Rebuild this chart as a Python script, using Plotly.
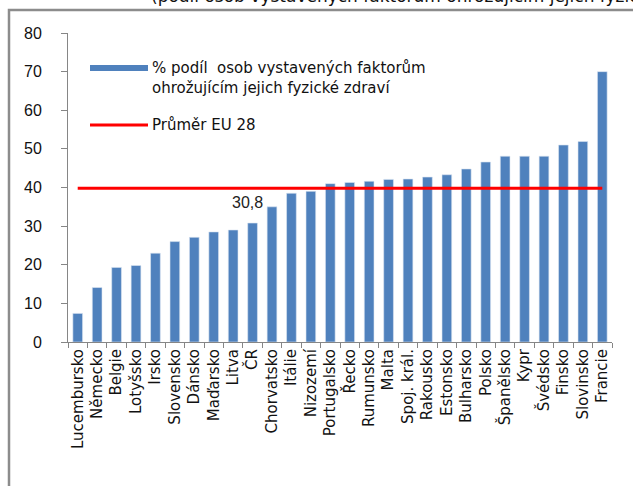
import plotly.graph_objects as go

# ── data ─────────────────────────────────────────────────────────
countries = [
    "Lucembursko", "Německo", "Belgie", "Lotyšsko", "Irsko", "Slovensko",
    "Dánsko", "Maďarsko", "Litva", "ČR", "Chorvatsko", "Itálie", "Nizozemí",
    "Portugalsko", "Řecko", "Rumunsko", "Malta", "Spoj. král.", "Rakousko",
    "Estonsko", "Bulharsko", "Polsko", "Španělsko", "Kypr", "Švédsko",
    "Finsko", "Slovinsko", "Francie",
]
share = [
    7.4, 14.1, 19.3, 19.8, 23.0, 26.0, 27.1, 28.5, 29.0, 30.8, 35.0, 38.5,
    39.0, 41.0, 41.3, 41.6, 42.1, 42.2, 42.7, 43.3, 44.8, 46.6, 48.1, 48.1,
    48.1, 51.0, 51.9, 70.0,
]
eu_avg = 39.8
series_name = "% podíl  osob vystavených faktorům<br>ohrožujícím jejich fyzické zdraví"
avg_name = "Průměr EU 28"
cz_label = "30,8"
title_text = "(podíl osob vystavených faktorům ohrožujícím jejich fyzické zdraví v %)"

ARIAL = "Liberation Sans, Arial, sans-serif"
WIDE = "DejaVu Sans, Verdana, sans-serif"
BLUE, RED, GREY = "#4F81BD", "#FF0000", "#868686"

fig = go.Figure()
fig.add_trace(go.Bar(
    x=countries, y=share, name=series_name, showlegend=False,
    marker=dict(color=BLUE, line=dict(color="#DCE6F2", width=0.6)),
))
fig.add_trace(go.Scatter(
    x=countries, y=[eu_avg] * len(countries), name=avg_name, showlegend=False,
    mode="lines", line=dict(color=RED, width=3),
))

# ── layout ───────────────────────────────────────────────────────
L, R, T, B = 68, 21, 33, 144
W, H = 633, 486
pw, ph = W - L - R, H - T - B

def px(x):  # pixel -> paper x
    return (x - L) / pw

def py(y):  # pixel -> paper y
    return 1 - (y - T) / ph

fig.update_layout(
    width=W, height=H,
    margin=dict(l=L, r=R, t=T, b=B),
    plot_bgcolor="white", paper_bgcolor="white",
    font=dict(family=ARIAL, size=16, color="#111111"),
    bargap=0.5,
    xaxis=dict(
        tickangle=-90, tickfont=dict(family=WIDE, size=15), showgrid=False,
        showline=True, linecolor=GREY, linewidth=1, automargin=False,
        ticks="outside", tickson="boundaries", ticklen=5, tickcolor=GREY,
    ),
    yaxis=dict(
        range=[0, 80], dtick=10, tickfont=dict(size=16), showgrid=False,
        showline=True, linecolor=GREY, linewidth=1, automargin=False,
        ticks="outside", ticklen=6, tickcolor=GREY,
        ticklabelstandoff=16, zeroline=False,
    ),
)

# legend drawn by hand so the keys are as wide as in the original
fig.add_shape(type="line", xref="paper", yref="paper",
              x0=px(90), x1=px(148), y0=py(68), y1=py(68),
              line=dict(color=BLUE, width=6))
fig.add_annotation(text=series_name, xref="paper", yref="paper",
                   x=px(151), y=py(78), xanchor="left", yanchor="middle",
                   align="left", showarrow=False, borderpad=0,
                   font=dict(family=WIDE, size=15, color="#111111"))
fig.add_shape(type="line", xref="paper", yref="paper",
              x0=px(90), x1=px(148), y0=py(125), y1=py(125),
              line=dict(color=RED, width=3))
fig.add_annotation(text=avg_name, xref="paper", yref="paper",
                   x=px(151), y=py(125), xanchor="left", yanchor="middle",
                   showarrow=False, borderpad=0,
                   font=dict(family=WIDE, size=15, color="#111111"))

# data label above the Czech bar
fig.add_annotation(text=cz_label, x="ČR", y=share[countries.index("ČR")],
                   yanchor="bottom", yshift=10, xshift=-5, showarrow=False,
                   font=dict(family=ARIAL, size=16, color="#222222"))

# outer frame of the original slide, partly cut off
fig.add_shape(
    type="rect", xref="paper", yref="paper",
    x0=px(9), x1=px(W + 20), y0=py(H + 20), y1=py(10),
    line=dict(color="#8C8C8C", width=2.5), layer="below",
)
# title of the original slide, only its lowest strokes are on the picture
fig.add_annotation(
    text=title_text, xref="paper", yref="paper",
    x=px(150), y=py(7), xanchor="left", yanchor="bottom",
    showarrow=False, borderpad=0, font=dict(family=WIDE, size=17, color="#111111"),
)

fig.write_html(
    "out.html",
    config={"displayModeBar": False},
    post_script="document.body.style.margin='0px';",
)
